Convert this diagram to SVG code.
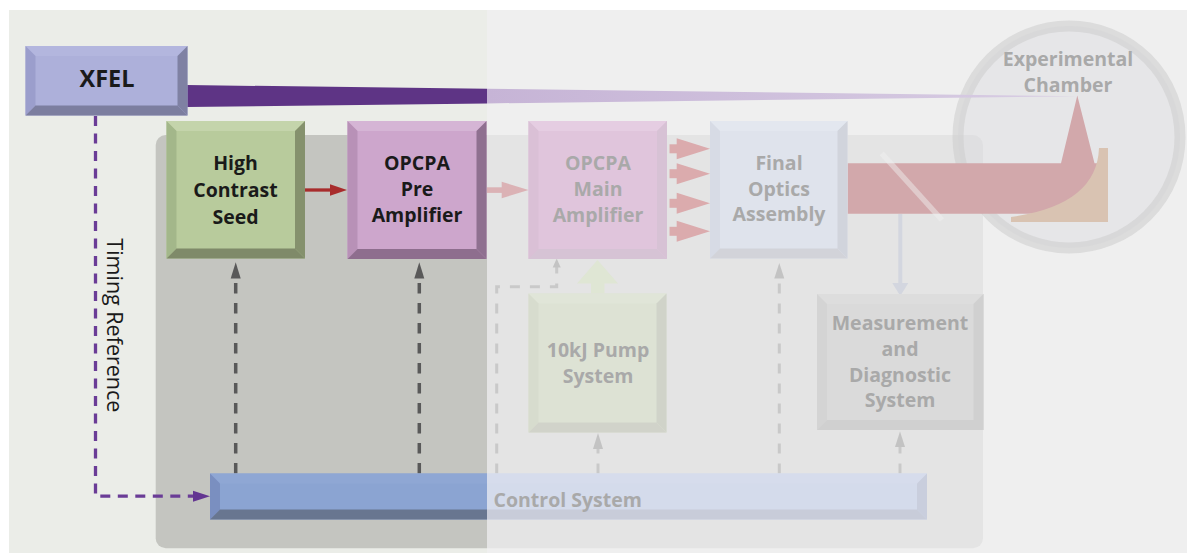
<svg xmlns="http://www.w3.org/2000/svg" width="1187" height="554" viewBox="0 0 1187 554">
<defs>
<style>
.lbl{font-family:"Open Sans","Noto Sans",sans-serif;font-weight:700;font-size:19.5px;text-anchor:middle;fill:#1a1a1a}
.fd{fill:#a9a9a9}
.tim{font-family:"Open Sans","Noto Sans",sans-serif;font-weight:400;font-size:21.5px;fill:#1a1a1a}
.dk{fill:none;stroke:#595959;stroke-width:3.5;stroke-dasharray:10.5 9.5}
.lt{fill:none;stroke:#c9c9c9;stroke-width:3;stroke-dasharray:10 10}
#xfel .f{fill:#adb0da}#xfel .t{fill:#b3b6de}#xfel .l{fill:#9b9ecc}#xfel .r{fill:#7f81a3}#xfel .b{fill:#7c7e9f}
#seed .f{fill:#b8cb9c}#seed .t{fill:#c4d4ab}#seed .l{fill:#a3b78a}#seed .r{fill:#85916d}#seed .b{fill:#7f8a69}
#preamp .f{fill:#cda6cc}#preamp .t{fill:#d5b5d5}#preamp .l{fill:#b891b7}#preamp .r{fill:#8f7090}#preamp .b{fill:#8e6e8e}
#mainamp .f{fill:#e0c5dc}#mainamp .t{fill:#e5cde2}#mainamp .l{fill:#dac0d6}#mainamp .r{fill:#d7c2d5}#mainamp .b{fill:#d6c3d5}
#optics .f{fill:#dfe3ec}#optics .t{fill:#e3e7ef}#optics .l{fill:#d7dbe5}#optics .r{fill:#d1d4dc}#optics .b{fill:#d2d3d9}
#pump .f{fill:#dde2d4}#pump .t{fill:#e0e5d8}#pump .l{fill:#d7dcce}#pump .r{fill:#d0d3c9}#pump .b{fill:#d1d3ca}
#measure .f{fill:#dadada}#measure .t{fill:#dddddd}#measure .l{fill:#d4d4d4}#measure .r{fill:#d0d0d0}#measure .b{fill:#d0d0d0}
.cL .f{fill:#8ba4d2}.cL .t{fill:#8fa7d4}.cL .l{fill:#7a8fc0}.cL .r{fill:#7a8fb0}.cL .b{fill:#687690}
.cR .f{fill:#d4dbeb}.cR .t{fill:#d6dcec}.cR .l{fill:#ccd3e6}.cR .r{fill:#c9cedd}.cR .b{fill:#c8ccd9}
</style>
<clipPath id="clipL"><rect x="0" y="0" width="487" height="554"/></clipPath>
<clipPath id="clipR"><rect x="487" y="0" width="700" height="554"/></clipPath>
<linearGradient id="beamFade" gradientUnits="userSpaceOnUse" x1="487" y1="0" x2="1078" y2="0">
<stop offset="0" stop-color="#c6b4d6"/><stop offset="1" stop-color="#d8cde3"/>
</linearGradient>
</defs>

<g id="background">
<rect x="9" y="10" width="478" height="543" fill="#ebede8"/>
<rect x="487" y="10" width="700" height="543" fill="#efefef"/>
<rect x="155.7" y="135" width="827.3" height="413.3" rx="10" fill="#c4c5c0" clip-path="url(#clipL)"/>
<rect x="155.7" y="135" width="827.3" height="413.3" rx="10" fill="#e4e4e4" clip-path="url(#clipR)"/>
</g>

<g id="chamber">
<circle cx="1069" cy="137" r="111" fill="#d8d8dc" fill-opacity="0.35" stroke="#cfcfcf" stroke-opacity="0.6" stroke-width="11"/>
<text class="lbl fd" x="1068" y="66">Experimental</text>
<text class="lbl fd" x="1068" y="92.3">Chamber</text>
</g>

<g id="connectors">
<polygon points="187,85 1078,96.3 187,107" fill="#5e3485" clip-path="url(#clipL)"/>
<polygon points="187,85 1078,96.3 187,107" fill="url(#beamFade)" clip-path="url(#clipR)"/>
<path d="M95.5,116 V496.2 H194" fill="none" stroke="#6a3c96" stroke-width="3.3" stroke-dasharray="10 7.5"/>
<polygon points="193,490.7 210,496.2 193,501.7" fill="#633591"/>
<line x1="305" y1="190" x2="332" y2="190" stroke="#a82c2c" stroke-width="3.3"/>
<polygon points="330,184.3 347,190 330,195.7" fill="#a82c2c"/>
<rect x="487" y="187.3" width="15" height="5.6" fill="#dbb2b5"/>
<polygon points="501.7,181.7 528.5,190 501.7,198.3" fill="#dbb2b5"/>
<g fill="#dbabad">
<rect x="669.5" y="144.3" width="7.5" height="9"/><polygon points="676.7,138.3 710,148.8 676.7,159.3"/>
<rect x="669.5" y="169.2" width="7.5" height="9"/><polygon points="676.7,163.2 710,173.7 676.7,184.2"/>
<rect x="669.5" y="198.8" width="7.5" height="9"/><polygon points="676.7,192.8 710,203.3 676.7,213.8"/>
<rect x="669.5" y="226.8" width="7.5" height="9"/><polygon points="676.7,220.8 710,231.3 676.7,241.8"/>
</g>
<line class="dk" x1="235.7" y1="473.5" x2="235.7" y2="279"/>
<polygon points="230.7,278.5 235.7,262.3 240.7,278.5" fill="#595959"/>
<line class="dk" x1="419.3" y1="473.5" x2="419.3" y2="279"/>
<polygon points="414.3,278.5 419.3,262.3 424.3,278.5" fill="#595959"/>
<path class="lt" d="M496.7,473.5 V286.7 H556.7 V267"/>
<polygon points="552.7,267.5 556.7,258.5 560.7,267.5" fill="#c3c3c3"/>
<polygon points="597.5,260 618,283.5 604.5,283.5 604.5,293.5 591,293.5 591,283.5 577,283.5" fill="#dfe6d4"/>
<line class="lt" x1="598" y1="473.5" x2="598" y2="449"/>
<polygon points="593,449 598,433 603,449" fill="#c3c3c3"/>
<line class="lt" x1="779.3" y1="473.5" x2="779.3" y2="279"/>
<polygon points="774.3,278.5 779.3,263 784.3,278.5" fill="#c3c3c3"/>
<line class="lt" x1="900" y1="473.5" x2="900" y2="447"/>
<polygon points="895,447 900,431.5 905,447" fill="#c3c3c3"/>
<line x1="900.3" y1="214" x2="900.3" y2="284" stroke="#d3d6df" stroke-width="4"/>
<polygon points="892.3,283 908.3,283 900.3,296" fill="#d3d6df"/>
</g>

<g id="laser-beam">
<path d="M847.5,163.3 H1061 L1077.3,95.5 L1094.5,163.3 H1097 V213.7 H847.5 Z" fill="#d2a8ab"/>
<path d="M1011,217 Q1097,205 1099,148 H1108 V222 H1011 Z" fill="#d9c3b2"/>
<line x1="881.7" y1="153.3" x2="942" y2="220" stroke="#f0f0f0" stroke-opacity="0.47" stroke-width="5.5"/>
</g>

<g id="xfel">
<rect class="f" x="25.5" y="46" width="162" height="69.5"/>
<polygon class="t" points="25.5,46 187.5,46 177.5,56 35.5,56"/>
<polygon class="l" points="25.5,46 35.5,56 35.5,105.5 25.5,115.5"/>
<polygon class="r" points="187.5,46 187.5,115.5 177.5,105.5 177.5,56"/>
<polygon class="b" points="25.5,115.5 35.5,105.5 177.5,105.5 187.5,115.5"/>
<text class="lbl" x="107" y="87" style="font-size:23.5px">XFEL</text>
</g>

<g id="timing-label">
<text class="tim" transform="translate(106.7,238.3) rotate(90)" x="0" y="0">Timing Reference</text>
</g>

<g id="seed">
<rect class="f" x="166.5" y="121" width="138.5" height="137.5"/>
<polygon class="t" points="166.5,121 305,121 295,131 176.5,131"/>
<polygon class="l" points="166.5,121 176.5,131 176.5,248.5 166.5,258.5"/>
<polygon class="r" points="305,121 305,258.5 295,248.5 295,131"/>
<polygon class="b" points="166.5,258.5 176.5,248.5 295,248.5 305,258.5"/>
<text class="lbl" x="235.5" y="169.5">High</text>
<text class="lbl" x="235.5" y="196.5">Contrast</text>
<text class="lbl" x="235.5" y="223.5">Seed</text>
</g>

<g id="preamp">
<rect class="f" x="347.5" y="121" width="139" height="138"/>
<polygon class="t" points="347.5,121 486.5,121 476.5,131 357.5,131"/>
<polygon class="l" points="347.5,121 357.5,131 357.5,249 347.5,259"/>
<polygon class="r" points="486.5,121 486.5,259 476.5,249 476.5,131"/>
<polygon class="b" points="347.5,259 357.5,249 476.5,249 486.5,259"/>
<text class="lbl" x="417" y="170">OPCPA</text>
<text class="lbl" x="417" y="196">Pre</text>
<text class="lbl" x="417" y="221.5">Amplifier</text>
</g>

<g id="mainamp">
<rect class="f" x="528.5" y="121" width="138.5" height="138"/>
<polygon class="t" points="528.5,121 667,121 657,131 538.5,131"/>
<polygon class="l" points="528.5,121 538.5,131 538.5,249 528.5,259"/>
<polygon class="r" points="667,121 667,259 657,249 657,131"/>
<polygon class="b" points="528.5,259 538.5,249 657,249 667,259"/>
<text class="lbl fd" x="598" y="170">OPCPA</text>
<text class="lbl fd" x="598" y="196">Main</text>
<text class="lbl fd" x="598" y="222">Amplifier</text>
</g>

<g id="optics">
<rect class="f" x="710" y="121" width="137.5" height="137.5"/>
<polygon class="t" points="710,121 847.5,121 837.5,131 720,131"/>
<polygon class="l" points="710,121 720,131 720,248.5 710,258.5"/>
<polygon class="r" points="847.5,121 847.5,258.5 837.5,248.5 837.5,131"/>
<polygon class="b" points="710,258.5 720,248.5 837.5,248.5 847.5,258.5"/>
<text class="lbl fd" x="779" y="170">Final</text>
<text class="lbl fd" x="779" y="196">Optics</text>
<text class="lbl fd" x="779" y="221">Assembly</text>
</g>

<g id="pump">
<rect class="f" x="528.5" y="293.5" width="138" height="139"/>
<polygon class="t" points="528.5,293.5 666.5,293.5 656.5,303.5 538.5,303.5"/>
<polygon class="l" points="528.5,293.5 538.5,303.5 538.5,422.5 528.5,432.5"/>
<polygon class="r" points="666.5,293.5 666.5,432.5 656.5,422.5 656.5,303.5"/>
<polygon class="b" points="528.5,432.5 538.5,422.5 656.5,422.5 666.5,432.5"/>
<text class="lbl fd" x="598" y="356.7">10kJ Pump</text>
<text class="lbl fd" x="598" y="382.7">System</text>
</g>

<g id="measure">
<rect class="f" x="817" y="294" width="166.5" height="136"/>
<polygon class="t" points="817,294 983.5,294 973.5,304 827,304"/>
<polygon class="l" points="817,294 827,304 827,420 817,430"/>
<polygon class="r" points="983.5,294 983.5,430 973.5,420 973.5,304"/>
<polygon class="b" points="817,430 827,420 973.5,420 983.5,430"/>
<text class="lbl fd" x="900" y="330">Measurement</text>
<text class="lbl fd" x="900" y="356">and</text>
<text class="lbl fd" x="900" y="381.7">Diagnostic</text>
<text class="lbl fd" x="900" y="406.7">System</text>
</g>

<g id="control">
<g class="cL" clip-path="url(#clipL)">
<rect class="f" x="210" y="473.5" width="717" height="46"/>
<polygon class="t" points="210,473.5 927,473.5 917,483.5 220,483.5"/>
<polygon class="l" points="210,473.5 220,483.5 220,509.5 210,519.5"/>
<polygon class="r" points="927,473.5 927,519.5 917,509.5 917,483.5"/>
<polygon class="b" points="210,519.5 220,509.5 917,509.5 927,519.5"/>
</g>
<g class="cR" clip-path="url(#clipR)">
<rect class="f" x="210" y="473.5" width="717" height="46"/>
<polygon class="t" points="210,473.5 927,473.5 917,483.5 220,483.5"/>
<polygon class="l" points="210,473.5 220,483.5 220,509.5 210,519.5"/>
<polygon class="r" points="927,473.5 927,519.5 917,509.5 917,483.5"/>
<polygon class="b" points="210,519.5 220,509.5 917,509.5 927,519.5"/>
</g>
<text class="lbl fd" x="493.5" y="506.7" style="text-anchor:start">Control System</text>
</g>
</svg>
